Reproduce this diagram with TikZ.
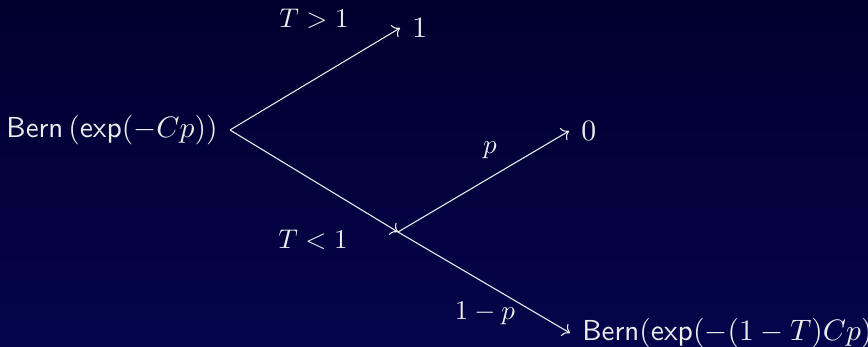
\documentclass[tikz,border=0pt]{standalone}
\usetikzlibrary{arrows.meta}
\definecolor{bgtop}{RGB}{0,0,46}
\definecolor{bgbot}{RGB}{4,4,76}
\definecolor{fg}{RGB}{236,236,236}
\begin{document}
\begin{tikzpicture}[x=0.37pt,y=-0.37pt,
  leaf/.style={inner sep=4.4pt,text=fg,font=\fontsize{10.7pt}{13pt}\selectfont\sffamily},
  lab/.style={inner sep=0pt,text=fg,font=\fontsize{10pt}{12pt}\selectfont},
  edge/.style={draw=fg,line width=0.4pt,->}]
\shade[top color=bgtop,bottom color=bgbot] (0,0) rectangle (868,347);
\useasboundingbox (0,0) rectangle (868,347);
\node[leaf,anchor=east] (root) at (230,130) {Bern\,$(\mathsf{exp}(-Cp))$};
\node[leaf,anchor=west] (one) at (400,28) {$1$};
\node[leaf,anchor=west] (zero) at (569,131) {$0$};
\node[leaf,anchor=west] (bern2) at (570,333) {Bern$(\mathsf{exp}(-(1-T)Cp))$};
\coordinate (mid) at (398,232);
\draw[edge] (root.east) -- (one.west);
\draw[edge] (root.east) -- (mid);
\draw[edge] (mid) -- (zero.west);
\draw[edge] (mid) -- (bern2.west);
\node[lab] (l1) at (314,19) {$T>1$};
\node[lab] (l2) at (313,240) {$T<1$};
\node[lab] (l3) at (490,150) {$p$};
\node[lab] (l4) at (485,313) {$1-p$};
\end{tikzpicture}
\end{document}
